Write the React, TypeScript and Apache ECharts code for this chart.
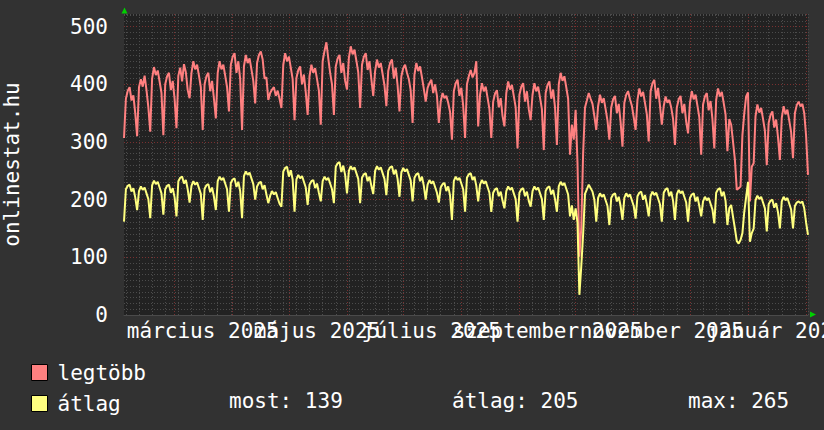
import React, { useEffect, useRef } from "react";
import * as echarts from "echarts";

// Daily values, starting Sunday 2 February 2025 (day 0)
const legtobb: number[] = [
  307, 375, 389, 395, 372, 381, 350,
  310, 395, 409, 396, 415, 390, 360,
  318, 410, 430, 416, 424, 405, 385,
  312, 400, 414, 420, 390, 406, 375,
  324, 415, 429, 405, 435, 421, 390,
  376, 420, 440, 426, 434, 415, 395,
  321, 400, 414, 420, 388, 406, 375,
  341, 420, 440, 426, 434, 415, 395,
  353, 434, 448, 454, 420, 440, 409,
  321, 431, 451, 437, 445, 426, 406,
  367, 437, 451, 457, 443, 410, 412,
  373, 385, 391, 395, 380, 389, 375,
  359, 434, 454, 440, 448, 429, 409,
  338, 411, 425, 431, 400, 417, 386,
  347, 414, 434, 420, 428, 409, 389,
  330, 440, 458, 473, 445, 420, 400,
  347, 431, 445, 451, 420, 437, 406,
  391, 446, 466, 452, 460, 441, 421,
  359, 434, 448, 454, 425, 440, 409,
  380, 423, 443, 429, 437, 418, 398,
  362, 423, 437, 443, 410, 429, 398,
  353, 414, 428, 434, 420, 409, 389,
  333, 417, 437, 423, 431, 412, 392,
  370, 394, 402, 408, 385, 400, 380,
  333, 370, 385, 376, 380, 368, 352,
  304, 388, 402, 408, 380, 394, 363,
  307, 400, 414, 425, 412, 420, 440,
  327, 382, 402, 388, 396, 377, 357,
  307, 370, 384, 390, 360, 376, 345,
  327, 385, 405, 391, 399, 380, 360,
  289, 382, 396, 402, 370, 388, 357,
  338, 382, 402, 388, 396, 377, 357,
  286, 385, 399, 405, 375, 391, 360,
  295, 400, 420, 406, 414, 395, 375,
  278, 330, 304, 356, 263, 101, 150,
  280, 360, 372, 385, 375, 366, 345,
  321, 362, 382, 368, 376, 357, 337,
  304, 360, 374, 380, 350, 366, 335,
  292, 368, 382, 388, 374, 363, 343,
  321, 373, 393, 379, 387, 368, 348,
  301, 388, 402, 408, 375, 394, 363,
  330, 362, 379, 368, 373, 360, 340,
  295, 360, 374, 380, 350, 366, 335,
  315, 368, 388, 374, 382, 363, 343,
  278, 365, 379, 385, 355, 371, 340,
  289, 373, 393, 379, 387, 368, 348,
  284, 340, 330, 300, 269, 217, 220,
  223, 312, 350, 379, 386, 197, 257,
  263, 345, 365, 351, 359, 340, 320,
  260, 333, 347, 353, 325, 339, 308,
  269, 342, 362, 348, 356, 337, 317,
  272, 350, 364, 370, 362, 366, 350,
  310, 243,
];

const atlag: number[] = [
  162, 218, 224, 226, 214, 220, 204,
  182, 215, 223, 217, 221, 211, 201,
  168, 225, 233, 227, 231, 221, 211,
  174, 218, 224, 226, 212, 220, 204,
  171, 232, 238, 240, 228, 234, 218,
  195, 224, 232, 226, 230, 220, 210,
  165, 219, 225, 227, 213, 221, 205,
  182, 232, 240, 234, 238, 228, 218,
  179, 229, 235, 237, 222, 231, 215,
  168, 241, 249, 243, 247, 237, 227,
  200, 223, 229, 231, 218, 225, 209,
  194, 207, 215, 209, 213, 203, 193,
  188, 249, 255, 257, 240, 251, 235,
  179, 235, 243, 237, 241, 231, 221,
  191, 226, 232, 234, 220, 228, 212,
  197, 232, 240, 234, 238, 228, 218,
  194, 257, 263, 265, 248, 259, 243,
  211, 250, 258, 252, 256, 246, 236,
  194, 238, 244, 246, 232, 240, 224,
  210, 250, 258, 252, 256, 246, 236,
  208, 250, 256, 258, 244, 252, 236,
  205, 247, 255, 249, 253, 243, 233,
  197, 238, 244, 246, 232, 240, 224,
  200, 226, 234, 228, 232, 222, 212,
  195, 221, 227, 229, 215, 223, 207,
  165, 232, 240, 234, 238, 228, 218,
  179, 238, 244, 246, 234, 240, 224,
  197, 226, 234, 228, 232, 222, 212,
  179, 212, 218, 220, 206, 214, 198,
  185, 215, 223, 217, 221, 211, 201,
  162, 212, 218, 220, 206, 214, 198,
  188, 215, 223, 217, 221, 211, 201,
  165, 215, 221, 223, 209, 217, 201,
  179, 223, 231, 225, 229, 219, 209,
  171, 190, 165, 185, 160, 35, 84,
  140, 210, 218, 226, 220, 214, 200,
  162, 203, 211, 205, 209, 199, 189,
  156, 203, 209, 211, 197, 205, 189,
  165, 203, 211, 205, 209, 199, 189,
  167, 206, 212, 214, 200, 208, 192,
  171, 206, 214, 208, 212, 202, 192,
  162, 212, 218, 220, 206, 214, 198,
  165, 209, 217, 211, 215, 205, 195,
  162, 203, 209, 211, 197, 205, 189,
  171, 197, 205, 199, 203, 193, 183,
  159, 212, 218, 220, 206, 214, 198,
  156, 185, 191, 170, 150, 128, 124,
  130, 142, 179, 205, 231, 127, 142,
  150, 199, 207, 201, 205, 195, 185,
  145, 192, 198, 200, 186, 194, 178,
  150, 197, 205, 199, 203, 193, 183,
  150, 189, 195, 197, 194, 197, 185,
  160, 139,
];

const seriesNames = ["legtöbb", "átlag"];
const seriesColors = ["#ff8080", "#ffff80"];
const monthLabels = [
  "március 2025",
  "május 2025",
  "július 2025",
  "szeptember 2025",
  "november 2025",
  "január 2026",
];
const labelMonthIndex = [2, 4, 6, 8, 10, 12]; // months counted from Jan 2025
const yTickValues = [0, 100, 200, 300, 400, 500];
const statLabels = ["most: 139", "átlag: 205", "max: 265"];
const yAxisTitle = "onlinestat.hu";

const FONT = "'DejaVu Sans Mono', monospace";
const DAY0 = Date.UTC(2025, 1, 2);
const dayOf = (y: number, m: number, d: number) =>
  Math.round((Date.UTC(y, m, d) - DAY0) / 86400000);

export default function App() {
  const ref = useRef<HTMLDivElement>(null);
  useEffect(() => {
    if (!ref.current) return;
    const chart = echarts.init(ref.current, null, { renderer: "svg" });
    const lastDay = legtobb.length - 1;

    const monthStarts: number[] = [];
    for (let m = 2; m <= 13; m++) monthStarts.push(dayOf(2025, m, 1));
    const mondays: number[] = [];
    for (let d = 1; d <= lastDay; d += 7) mondays.push(d);
    const labelDays = labelMonthIndex.map((m) => dayOf(2025, m, 1) + 15);
    const labelSetA = labelDays.filter((_, i) => i % 2 === 0);
    const labelSetB = labelDays.filter((_, i) => i % 2 === 1);

    const minorLine = { color: "#4c4c4c", type: [1, 2] as any, width: 1 };
    const majorLine = { color: "#7a3030", type: [1, 2] as any, width: 1 };

    const monthLabel = (values: number[]) => ({
      customValues: values,
      formatter: (v: number) => {
        const i = labelDays.indexOf(Math.round(v));
        return i >= 0 ? monthLabels[i] : "";
      },
      showMinLabel: true,
      showMaxLabel: true,
      hideOverlap: false,
      color: "#ffffff",
      fontSize: 21,
      fontFamily: FONT,
      margin: 5,
    });

    chart.setOption({
      animation: false,
      backgroundColor: "#323232",
      textStyle: { fontFamily: FONT },
      grid: {
        left: 124,
        top: 14,
        width: 684,
        height: 301,
        show: true,
        backgroundColor: "#222222",
        borderWidth: 0,
        containLabel: false,
        outerBoundsMode: "none",
      },
      legend: {
        orient: "vertical",
        left: 31,
        top: 362,
        padding: 0,
        itemWidth: 16,
        itemHeight: 16,
        itemGap: 10,
        icon: "rect",
        selectedMode: false,
        itemStyle: { borderColor: "#000000", borderWidth: 1 },
        textStyle: {
          color: "#ffffff",
          fontSize: 21,
          fontFamily: FONT,
          padding: [0, 0, 0, 5],
        },
        data: seriesNames,
      },
      xAxis: [
        {
          type: "value",
          min: 0,
          max: lastDay,
          position: "bottom",
          axisLine: { show: false },
          axisTick: { show: false, customValues: mondays },
          axisLabel: monthLabel(labelSetA),
          splitLine: { show: true, lineStyle: minorLine },
        },
        {
          type: "value",
          min: 0,
          max: lastDay,
          position: "bottom",
          axisLine: { show: true, lineStyle: { color: "#4a4a4a" } },
          axisTick: { show: false, customValues: monthStarts },
          axisLabel: monthLabel(labelSetB),
          splitLine: { show: true, lineStyle: majorLine },
        },
      ],
      yAxis: [
        {
          type: "value",
          min: 0,
          max: 522,
          interval: 10,
          position: "left",
          axisLine: { show: false },
          axisTick: { show: false },
          axisLabel: { show: false },
          splitLine: { show: true, lineStyle: minorLine },
        },
        {
          type: "value",
          min: 0,
          max: 522,
          position: "left",
          axisLine: { show: false },
          axisTick: { show: false, customValues: yTickValues },
          axisLabel: {
            customValues: yTickValues,
            color: "#ffffff",
            fontSize: 21,
            fontFamily: FONT,
            margin: 16,
          },
          splitLine: { show: true, lineStyle: majorLine },
          name: yAxisTitle,
          nameLocation: "middle",
          nameRotate: 90,
          nameGap: 102,
          nameTextStyle: { color: "#ffffff", fontSize: 21, fontFamily: FONT },
        },
      ],
      series: [
        {
          type: "line",
          name: seriesNames[0],
          xAxisIndex: 1,
          yAxisIndex: 1,
          data: legtobb.map((v, i) => [i, v]),
          symbol: "none",
          showSymbol: false,
          lineStyle: { color: seriesColors[0], width: 2 },
          itemStyle: { color: seriesColors[0] },
        },
        {
          type: "line",
          name: seriesNames[1],
          xAxisIndex: 1,
          yAxisIndex: 1,
          data: atlag.map((v, i) => [i, v]),
          symbol: "none",
          showSymbol: false,
          lineStyle: { color: seriesColors[1], width: 2 },
          itemStyle: { color: seriesColors[1] },
        },
      ],
      graphic: [
        ...statLabels.map((t, i) => ({
          type: "text",
          x: [229, 452, 688][i],
          y: 401,
          style: {
            text: t,
            fill: "#ffffff",
            font: `21px ${FONT}`,
            verticalAlign: "middle",
          },
        })),
        {
          type: "polygon",
          shape: { points: [[121.5, 13.5], [124.5, 7.5], [127.5, 13.5]] },
          style: { fill: "#00d000" },
        },
        {
          type: "polygon",
          shape: { points: [[810, 311.5], [816, 314.5], [810, 317.5]] },
          style: { fill: "#00d000" },
        },
      ],
    });
    return () => chart.dispose();
  }, []);
  return (
    <div
      ref={ref}
      style={{ position: "fixed", left: 0, top: 0, width: 824, height: 430 }}
    />
  );
}
